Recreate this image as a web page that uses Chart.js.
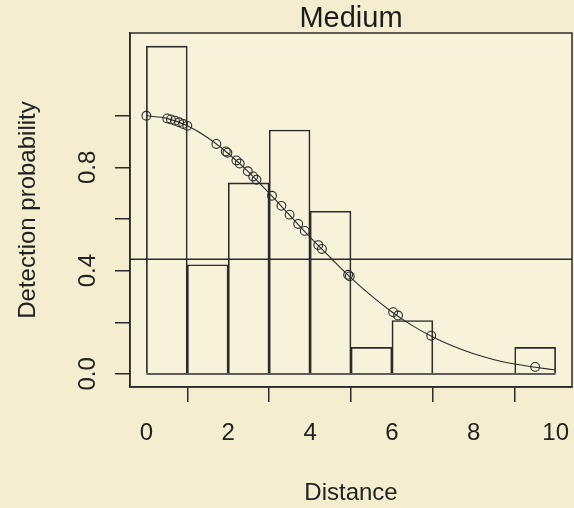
<!DOCTYPE html>
<html>
<head>
<meta charset="utf-8">
<script src="https://cdn.jsdelivr.net/npm/chart.js@4.4.0/dist/chart.umd.min.js"></script>
<style>
  html, body { margin: 0; padding: 0; background: #f4edd0; }
  #wrap { width: 574px; height: 508px; }
</style>
</head>
<body>
<div id="wrap"><canvas id="c" width="574" height="508"></canvas></div>
<script>
// ---- data ----
const binEdges = [0, 1, 2, 3, 4, 5, 6, 7, 8, 9, 10];
const binHeights = [1.27, 0.423, 0.740, 0.945, 0.630, 0.103, 0.207, 0, 0, 0.103];
const hLineValue = 0.444;
const curveX = [0, 0.5, 1, 1.5, 2, 2.5, 3, 3.5, 4, 4.5, 5, 5.5, 6, 6.5, 7, 7.5, 8, 8.5, 9, 9.5, 10];
const curveY = [1.000, 0.990, 0.961, 0.915, 0.854, 0.782, 0.700, 0.615, 0.530, 0.450, 0.372, 0.302, 0.240, 0.187, 0.143, 0.107, 0.078, 0.055, 0.038, 0.026, 0.015];
const obsX = [0, 0.51, 0.60, 0.70, 0.80, 0.90, 1.00, 1.71, 1.94, 1.98, 2.20, 2.28, 2.48, 2.61, 2.69, 3.07, 3.30, 3.50, 3.71, 3.87, 4.20, 4.29, 4.93, 4.97, 6.03, 6.15, 6.96, 9.50];
const obsY = [1.000, 0.990, 0.986, 0.981, 0.975, 0.968, 0.961, 0.891, 0.862, 0.857, 0.827, 0.815, 0.785, 0.765, 0.752, 0.690, 0.651, 0.617, 0.581, 0.554, 0.499, 0.484, 0.384, 0.378, 0.239, 0.226, 0.148, 0.027];
const xTicks = [0, 2, 4, 6, 8, 10];
const xTickLabels = ['0', '2', '4', '6', '8', '10'];
const yTicks = [0, 0.2, 0.4, 0.6, 0.8, 1.0];
const yTickLabels = ['0.0', '', '0.4', '', '0.8', ''];
const xLimits = [-0.4, 10.4];
const yLimits = [-0.0508, 1.3208];
const titleText = 'Medium';
const xTitle = 'Distance';
const yTitle = 'Detection probability';

const INK = '#2b2b2b';
const FONT = "'Liberation Sans', Arial, sans-serif";

const barData = binHeights.map((h, i) => ({ x: (binEdges[i] + binEdges[i + 1]) / 2, y: h }));
const curveData = curveX.map((x, i) => ({ x: x, y: curveY[i] }));
const obsData = obsX.map((x, i) => ({ x: x, y: obsY[i] }));
const hLineData = [{ x: xLimits[0], y: hLineValue }, { x: xLimits[1], y: hLineValue }];

function noPad(s) { s.paddingLeft = 0; s.paddingRight = 0; s.paddingTop = 0; s.paddingBottom = 0; }

const rPlot = {
  id: 'rPlot',
  beforeDraw(chart) {
    const { ctx, chartArea: a } = chart;
    ctx.save();
    ctx.fillStyle = '#f4edd0';
    ctx.fillRect(0, 0, chart.width, chart.height);
    ctx.fillStyle = '#f7f2da';
    ctx.fillRect(a.left, a.top, a.right - a.left, a.bottom - a.top);
    ctx.restore();
  },
  afterDraw(chart) {
    const { ctx, chartArea: a } = chart;
    const xs = chart.scales.x, ys = chart.scales.y;
    ctx.save();
    // plot box
    ctx.strokeStyle = INK;
    ctx.lineWidth = 1.5;
    ctx.strokeRect(a.left, a.top, a.right - a.left, a.bottom - a.top);
    // histogram baseline
    const y0 = ys.getPixelForValue(0);
    ctx.beginPath();
    ctx.moveTo(xs.getPixelForValue(binEdges[0]), y0);
    ctx.lineTo(xs.getPixelForValue(binEdges[binEdges.length - 1]), y0);
    ctx.stroke();
    // rotated y tick labels (R style)
    ctx.fillStyle = '#222';
    ctx.font = '24px ' + FONT;
    ctx.textAlign = 'center';
    ctx.textBaseline = 'middle';
    yTicks.forEach((v, i) => {
      if (!yTickLabels[i]) return;
      ctx.save();
      ctx.translate(88, ys.getPixelForValue(v));
      ctx.rotate(-Math.PI / 2);
      ctx.fillText(yTickLabels[i], 0, 0);
      ctx.restore();
    });
    ctx.restore();
  }
};

new Chart(document.getElementById('c'), {
  type: 'bar',
  data: {
    datasets: [
      {
        type: 'line', label: 'observed', data: obsData, showLine: false,
        pointRadius: 4.4, pointHoverRadius: 4.4, pointStyle: 'circle',
        pointBorderWidth: 1.1, pointBorderColor: INK, pointBackgroundColor: 'rgba(0,0,0,0)', order: 1
      },
      {
        type: 'line', label: 'fit', data: curveData, borderColor: INK, borderWidth: 1.1,
        pointRadius: 0, cubicInterpolationMode: 'monotone', fill: false, order: 2
      },
      {
        type: 'line', label: 'hline', data: hLineData, borderColor: INK, borderWidth: 1.5,
        pointRadius: 0, fill: false, order: 3
      },
      {
        type: 'bar', label: 'hist', data: barData, backgroundColor: 'rgba(0,0,0,0)',
        borderColor: INK, borderWidth: 1, borderSkipped: 'start',
        barPercentage: 1, categoryPercentage: 1, grouped: false, order: 4
      }
    ]
  },
  options: {
    responsive: false,
    animation: false,
    events: [],
    layout: { autoPadding: false, padding: { left: 0, right: 2, top: 0, bottom: 0 } },
    plugins: {
      legend: { display: false },
      tooltip: { enabled: false },
      title: {
        display: true, text: titleText, fullSize: false, color: '#1c1c1c',
        font: { family: FONT, size: 29, weight: 'normal', lineHeight: 1 },
        padding: { top: 4, bottom: 0 }
      }
    },
    scales: {
      x: {
        type: 'linear', min: xLimits[0], max: xLimits[1], offset: false,
        afterBuildTicks: s => { s.ticks = xTicks.map(v => ({ value: v })); },
        afterFit: s => { s.height = 121; noPad(s); },
        ticks: {
          callback: (v) => { const i = xTicks.indexOf(v); return i >= 0 ? xTickLabels[i] : ''; },
          font: { family: FONT, size: 24, lineHeight: 1 }, color: '#222', padding: 19,
          maxRotation: 0, minRotation: 0, autoSkip: false, includeBounds: false
        },
        grid: { drawOnChartArea: false, drawTicks: true, tickLength: 15, color: INK, lineWidth: 1.5 },
        border: { display: true, color: INK, width: 1.5 },
        title: {
          display: true, text: xTitle, color: '#222',
          font: { family: FONT, size: 24, lineHeight: 1 }, padding: { top: 0, bottom: 3 }
        }
      },
      y: {
        type: 'linear', min: yLimits[0], max: yLimits[1],
        afterBuildTicks: s => { s.ticks = yTicks.map(v => ({ value: v })); },
        afterFit: s => { s.width = 130; noPad(s); },
        ticks: { callback: () => '', font: { family: FONT, size: 24 }, padding: 0, autoSkip: false, includeBounds: false },
        grid: { drawOnChartArea: false, drawTicks: true, tickLength: 15, color: INK, lineWidth: 1.5 },
        border: { display: true, color: INK, width: 1.5 },
        title: {
          display: true, text: yTitle, color: '#222',
          font: { family: FONT, size: 24, lineHeight: 1 }, padding: { top: 16, bottom: 0 }
        }
      }
    }
  },
  plugins: [rPlot]
});
</script>
</body>
</html>
